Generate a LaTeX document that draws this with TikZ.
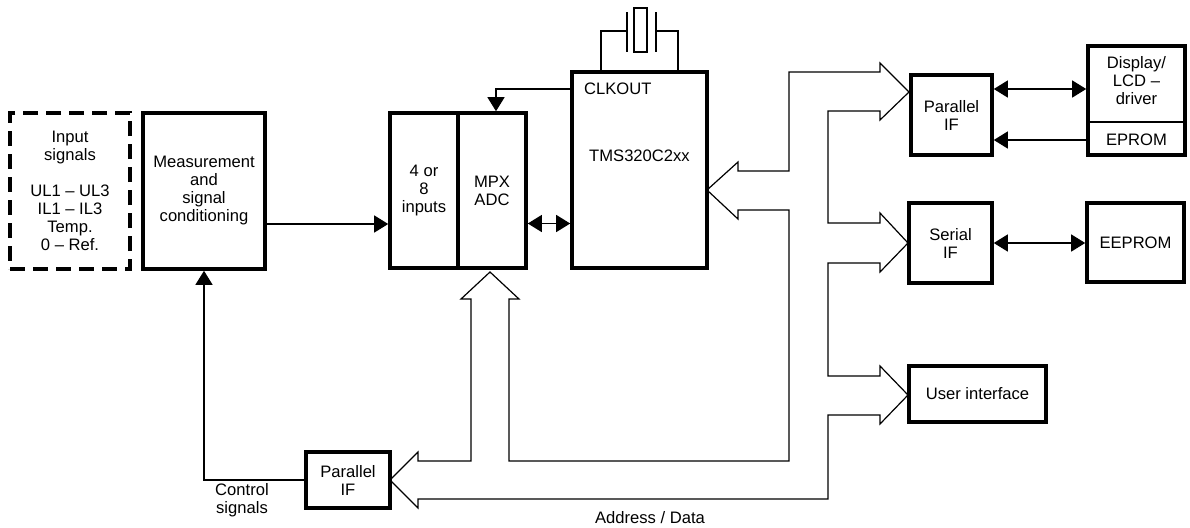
\documentclass[tikz,border=0pt]{standalone}
\usepackage{fontspec}
\setmainfont{Liberation Sans}
\usetikzlibrary{arrows.meta,positioning}

\tikzset{
  >={Triangle[length=7pt,width=8.5pt]},
  box/.style={draw, line width=1.8pt, align=center, inner sep=1pt},
  txt/.style={align=center},
  wire/.style={line width=0.65pt},
  bus/.style={line width=0.6pt, line join=miter}
}

\begin{document}
\begin{tikzpicture}[x=0.5pt,y=-0.5pt,font=\fontsize{8.3}{9}\selectfont] %Blockschaltbild Zaehler
    \useasboundingbox (0,0) rectangle (1190,527);

    \node[box, dash pattern=on 7.5pt off 4pt, minimum width=60pt, minimum height=78pt] (inp) at (70,191)
        {Input\\signals\\[9pt]UL1 \textendash{} UL3\\IL1 \textendash{} IL3\\Temp.\\0 \textendash{} Ref.};
    \node[box, minimum width=61pt, minimum height=78pt] (meas) at (204,191) {Measurement\\and\\signal\\conditioning};
    \node[box, minimum width=34pt, minimum height=77.5pt] (mux) at (424,190.5) {4 or\\8\\inputs};
    \node[box, minimum width=34pt, minimum height=77.5pt] (adc) at (492,190.5) {MPX\\ADC};

    \node[box, minimum width=67.5pt, minimum height=98pt] (dsp) at (639.5,170) {};
    \node[anchor=west] (clk) at (577,89) {CLKOUT};
    \node (cpu) at (639.5,156) {TMS320C2xx};

    \node[draw, wire, minimum width=6.5pt, minimum height=22pt, inner sep=0pt] (xtal) at (640.5,30) {};
    \draw[wire] (627,12) -- (627,52);
    \draw[wire] (656,12) -- (656,52);
    \draw[wire] (601,72) |- (627,31);
    \draw[wire] (678,72) |- (656,31);

    \node[box, minimum width=40.5pt, minimum height=40pt] (pif) at (951.5,115) {Parallel\\IF};
    \node[box, minimum width=48.5pt, minimum height=54.5pt] (disp) at (1136.5,100.5) {};
    \node[txt] (lcd) at (1136.5,81) {Display/\\LCD \textendash\\driver};
    \node (eprom) at (1136.5,140) {EPROM};
    \draw[wire] (disp.west |- 0,122) -- (disp.east |- 0,122);

    \node[box, minimum width=41.5pt, minimum height=40pt] (sif) at (950.5,243) {Serial\\IF};
    \node[box, minimum width=48.5pt, minimum height=39.5pt] (eep) at (1135.5,242.5) {EEPROM};
    \node[box, minimum width=68.5pt, minimum height=28pt] (ui) at (977.5,394) {User interface};
    \node[box, minimum width=42pt, minimum height=28pt] (pif2) at (348,480) {Parallel\\IF};

    \node[txt] (ctl) at (242,500) {Control\\signals};
    \node (adr) at (650,518) {Address / Data};

    \coordinate (in) at ([yshift=-16.5pt]meas.east);
    \coordinate (dx) at ([yshift=-16.5pt]adc.east);
    \coordinate (pa) at ([yshift=13pt]pif.east);
    \draw[wire,->] (in) -- (in -| mux.west);
    \draw[wire,<->] (dx) -- (dx -| dsp.west);
    \draw[wire,->] (dsp.west |- clk) -| ([xshift=2pt]adc.north);
    \draw[wire,<->] (pa) -- (pa -| disp.west);
    \draw[wire,<-] (eprom -| pif.east) -- (eprom -| disp.west);
    \draw[wire,<->] (sif.east) -- (sif.east -| eep.west);
    \draw[wire,->] (pif2.west) -| (meas.south);

    \draw[bus] (509,299) -- (509,461) -- (789,461) -- (789,210) -- (738,210) -- (738,219) -- (707,190)
        -- (738,162) -- (738,171) -- (789,171) -- (789,72) -- (880,72) -- (880,63) -- (909,92)
        -- (880,120) -- (880,111) -- (828,111) -- (828,223) -- (880,223) -- (880,213) -- (908,243)
        -- (880,272) -- (880,263) -- (828,263) -- (828,376) -- (880,376) -- (880,366) -- (908,395)
        -- (880,424) -- (880,415) -- (828,415) -- (828,499) -- (418,499) -- (418,508) -- (390,480)
        -- (418,452) -- (418,461) -- (471,461) -- (471,299) -- (461,299) -- (490,272) -- (519,299) -- cycle;
\end{tikzpicture}
\end{document}
